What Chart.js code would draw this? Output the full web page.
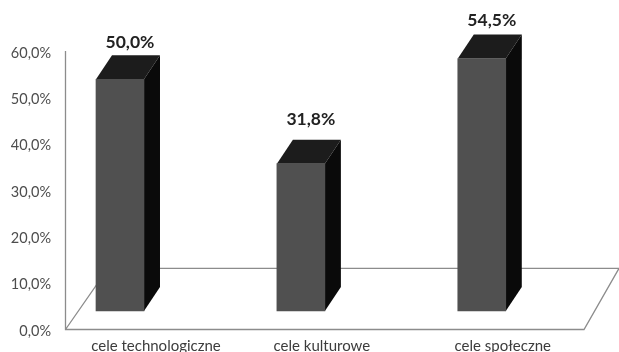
<!DOCTYPE html>
<html lang="pl">
<head>
<meta charset="utf-8">
<title>Cele</title>
<script src="https://cdn.jsdelivr.net/npm/chart.js@4/dist/chart.umd.min.js"></script>
<style>
  html, body { margin: 0; padding: 0; background: #fff; }
  canvas { display: block; filter: blur(0.45px); }
</style>
</head>
<body>
<canvas id="wykres" width="619" height="352"></canvas>
<script>
const categories = ['cele technologiczne', 'cele kulturowe', 'cele społeczne'];
const values = [50.0, 31.8, 54.5];
const yTicks = [0, 10, 20, 30, 40, 50, 60];

// x axis is linear so the bars can sit off the axis line like in the 3D original
const xMin = -0.304;
const xMax = 2.753;
const labelAnchors = [0.199, 1.116, 2.116];
const valueLabelLift = [37, 44, 38];

// 3D look
const depthX = 16;
const depthY = 24;
const floorLift = 3.88; // bars stand on the floor, above the 0 line (in % units)
const wallY = 13.2;     // back wall line, in % units
const frontColor = '#505050';
const topColor = '#1c1c1c';
const sideColor = '#0a0a0a';
const lineColor = '#8c8c8c';

const fmt = v => v.toFixed(1).replace('.', ',') + '%';

const bar3d = {
  id: 'bar3d',
  beforeDatasetsDraw(chart) {
    const ctx = chart.ctx;
    const { x, y } = chart.scales;
    const y0 = y.getPixelForValue(0);
    const yTop = y.getPixelForValue(60);
    const yWall = y.getPixelForValue(wallY);

    ctx.save();
    ctx.strokeStyle = lineColor;
    ctx.lineWidth = 1.3;
    ctx.beginPath();
    ctx.moveTo(x.left + 0.5, yTop);
    ctx.lineTo(x.left + 0.5, y0 + 0.5);
    ctx.lineTo(584, y0 + 0.5);
    ctx.lineTo(619, yWall + 0.5);
    ctx.lineTo(108, yWall + 0.5);
    ctx.lineTo(x.left + 0.5, y0 + 0.5);
    ctx.stroke();

    // top and side of each bar
    chart.getDatasetMeta(0).data.forEach(bar => {
      const left = bar.x - bar.width / 2;
      const right = bar.x + bar.width / 2;
      ctx.fillStyle = topColor;
      ctx.beginPath();
      ctx.moveTo(left, bar.y);
      ctx.lineTo(left + depthX, bar.y - depthY);
      ctx.lineTo(right + depthX, bar.y - depthY);
      ctx.lineTo(right, bar.y);
      ctx.closePath();
      ctx.fill();
      ctx.fillStyle = sideColor;
      ctx.beginPath();
      ctx.moveTo(right, bar.y);
      ctx.lineTo(right + depthX, bar.y - depthY);
      ctx.lineTo(right + depthX, bar.base - depthY);
      ctx.lineTo(right, bar.base);
      ctx.closePath();
      ctx.fill();
    });
    ctx.restore();
  },
  afterDatasetsDraw(chart) {
    const ctx = chart.ctx;
    ctx.save();
    ctx.font = 'bold 17.5px Lato';
    ctx.fillStyle = '#222';
    ctx.textAlign = 'center';
    ctx.textBaseline = 'middle';
    chart.getDatasetMeta(0).data.forEach((bar, i) => {
      ctx.fillText(fmt(values[i]), bar.x + 10, bar.y - valueLabelLift[i]);
    });
    ctx.restore();
  }
};

new Chart(document.getElementById('wykres'), {
  type: 'bar',
  data: {
    datasets: [{
      data: values.map((v, i) => ({ x: i, y: v })),
      backgroundColor: frontColor,
      barThickness: 48,
      yAxisID: 'yBars'
    }]
  },
  options: {
    responsive: false,
    animation: false,
    events: [],
    layout: { padding: { top: 51, right: 1, bottom: 0, left: 0 } },
    plugins: { legend: { display: false }, tooltip: { enabled: false } },
    scales: {
      x: {
        type: 'linear',
        offset: false,
        min: xMin,
        max: xMax,
        grid: { display: false },
        border: { display: false },
        afterBuildTicks(axis) {
          axis.ticks = labelAnchors.map(v => ({ value: v }));
        },
        afterFit(axis) { axis.height = 23; },
        ticks: {
          autoSkip: false,
          maxRotation: 0,
          padding: 0,
          color: '#3c3c3c',
          font: { family: 'Lato', size: 15 },
          callback: (value, i) => categories[i]
        }
      },
      y: {
        min: 0,
        max: 60,
        grid: { display: false, drawTicks: false },
        border: { display: false },
        afterBuildTicks(axis) {
          axis.ticks = yTicks.map(v => ({ value: v }));
        },
        afterFit(axis) { axis.width = 65; },
        ticks: {
          padding: 14,
          labelOffset: 2,
          color: '#4d4d4d',
          font: { family: 'Lato', size: 14.5 },
          callback: value => fmt(value)
        }
      },
      // same scale as y, moved up so 0 lands on the floor of the bars
      yBars: {
        display: false,
        min: -floorLift,
        max: 60 - floorLift
      }
    }
  },
  plugins: [bar3d]
});
</script>
</body>
</html>
